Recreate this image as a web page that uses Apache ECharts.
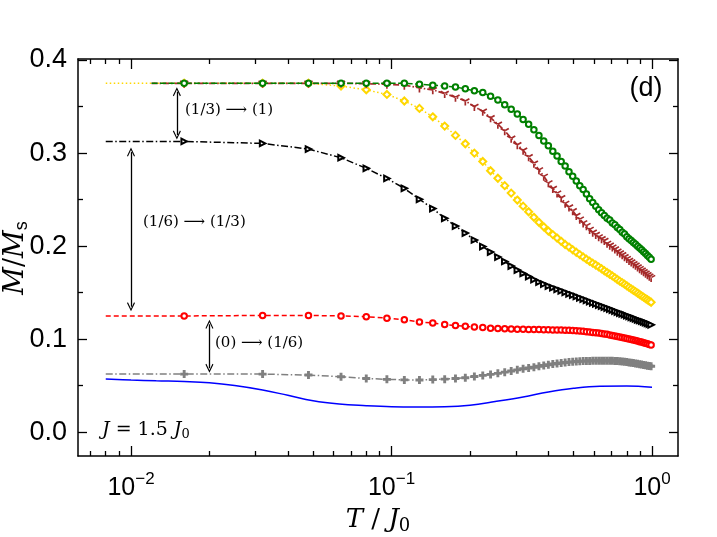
<!DOCTYPE html>
<html><head><meta charset="utf-8">
<script src="https://cdn.jsdelivr.net/npm/echarts@6/dist/echarts.min.js"></script>
<style>html,body{margin:0;padding:0;background:#fff}#c{width:717px;height:537px}</style>
</head><body><div id="c"></div>
<script>
// ---- data ----
const T = [0.016,0.032,0.048,0.064,0.080,0.096,0.112,0.128,0.144,0.160,0.176,0.192,0.208,0.224,0.240,0.256,0.272,0.288,0.304,0.320,0.336,0.352,0.368,0.384,0.400,0.416,0.432,0.448,0.464,0.480,0.496,0.512,0.528,0.544,0.560,0.576,0.592,0.608,0.624,0.640,0.656,0.672,0.688,0.704,0.720,0.736,0.752,0.768,0.784,0.800,0.816,0.832,0.848,0.864,0.880,0.896,0.912,0.928,0.944,0.960,0.976,0.992];
const greenStart = [0.012, 0.375];
const green = [0.375,0.375,0.375,0.375,0.375,0.375,0.375,0.374,0.373,0.372,0.371,0.369,0.367,0.365,0.361,0.357,0.352,0.347,0.342,0.336,0.331,0.325,0.319,0.313,0.308,0.302,0.297,0.291,0.286,0.280,0.275,0.270,0.265,0.261,0.256,0.251,0.247,0.243,0.239,0.236,0.233,0.230,0.228,0.225,0.223,0.220,0.218,0.215,0.213,0.210,0.208,0.206,0.204,0.202,0.200,0.198,0.196,0.194,0.192,0.190,0.188,0.186];
const brownStart = [0.012, 0.375];
const brown = [0.375,0.375,0.375,0.375,0.3745,0.374,0.373,0.370,0.368,0.364,0.360,0.356,0.350,0.345,0.338,0.331,0.324,0.316,0.309,0.303,0.296,0.289,0.282,0.275,0.268,0.262,0.257,0.252,0.246,0.242,0.238,0.233,0.229,0.225,0.222,0.218,0.215,0.2125,0.210,0.208,0.206,0.203,0.201,0.199,0.197,0.1945,0.1926,0.1907,0.1886,0.1866,0.1846,0.1829,0.1811,0.1794,0.1776,0.1758,0.1741,0.1725,0.1708,0.1692,0.1677,0.1662];
const yellowStart = [0.008, 0.375];
const yellow = [0.375,0.375,0.375,0.372,0.368,0.363,0.356,0.348,0.339,0.329,0.319,0.310,0.300,0.291,0.281,0.273,0.265,0.257,0.2495,0.243,0.237,0.231,0.2256,0.2208,0.2162,0.2124,0.2087,0.2052,0.2018,0.199,0.1961,0.1934,0.1909,0.1884,0.186,0.1838,0.1817,0.1797,0.1777,0.1757,0.1736,0.1717,0.1698,0.168,0.1661,0.1642,0.1624,0.1608,0.1591,0.1574,0.1557,0.1541,0.1526,0.1511,0.1496,0.148,0.1466,0.1452,0.1437,0.1424,0.141,0.1397];
const blackStart = [0.008, 0.3125];
const black = [0.3125,0.3104,0.3043,0.295,0.2836,0.2728,0.2621,0.2503,0.2404,0.2299,0.2216,0.2141,0.2066,0.1996,0.1937,0.1883,0.1835,0.1786,0.1743,0.1706,0.1673,0.1641,0.1614,0.1593,0.1571,0.1553,0.1536,0.152,0.1504,0.1488,0.1473,0.1459,0.1444,0.1431,0.1417,0.1404,0.1391,0.1379,0.1367,0.1356,0.1344,0.1333,0.1323,0.1313,0.1302,0.1291,0.1281,0.1272,0.1263,0.1253,0.1244,0.1235,0.1227,0.1218,0.1209,0.1201,0.1193,0.1185,0.1177,0.117,0.1162,0.1155];
const redStart = [0.008, 0.125];
const red = [0.125,0.1255,0.1255,0.125,0.1242,0.1226,0.1208,0.1186,0.1174,0.1158,0.1147,0.1139,0.1131,0.1125,0.1119,0.1115,0.1112,0.111,0.1108,0.1106,0.1105,0.1104,0.1103,0.1102,0.1101,0.1100,0.1099,0.1098,0.1097,0.1096,0.1094,0.1091,0.1088,0.1085,0.1081,0.1077,0.1073,0.1069,0.1066,0.1062,0.1057,0.1052,0.1046,0.1041,0.1035,0.1029,0.1024,0.1018,0.1013,0.1008,0.1002,0.0997,0.0991,0.0986,0.0981,0.0974,0.0969,0.0962,0.0956,0.095,0.0943,0.0938];
const grayStart = [0.008, 0.0625];
const gray = [0.0625,0.0625,0.0615,0.0597,0.0578,0.0569,0.0563,0.0562,0.0566,0.0571,0.0578,0.0586,0.0599,0.0611,0.0622,0.0633,0.0646,0.0658,0.0671,0.0682,0.0691,0.0699,0.0709,0.0718,0.0725,0.0733,0.0739,0.0744,0.075,0.0754,0.0757,0.076,0.0763,0.0765,0.0766,0.0767,0.0768,0.0769,0.0769,0.0769,0.0769,0.0769,0.0769,0.0768,0.0767,0.0765,0.0763,0.076,0.0757,0.0754,0.0751,0.0748,0.0744,0.074,0.0736,0.0731,0.0727,0.0723,0.0719,0.0715,0.0712,0.071];
const blueT = [0.008,0.01,0.0125,0.016,0.02,0.025,0.032,0.04,0.05,0.063,0.08,0.1,0.125,0.16,0.2,0.25,0.32,0.4,0.5,0.63,0.8,1.0];
const blue = [0.0573,0.0562,0.0553,0.0545,0.0532,0.0503,0.0455,0.0397,0.0338,0.0303,0.0286,0.0275,0.0272,0.0275,0.0291,0.033,0.0379,0.0433,0.0473,0.0495,0.0497,0.0485];

const xMajor = [0.01, 0.1, 1];
const xMinor = [0.007,0.008,0.009,0.02,0.03,0.04,0.05,0.06,0.07,0.08,0.09,0.2,0.3,0.4,0.5,0.6,0.7,0.8,0.9];
const yMajor = [0, 0.1, 0.2, 0.3, 0.4];
const yMinor = [0.05, 0.15, 0.25, 0.35];

// annotation arrows: [T, from, to]
const arrows = [[0.015, 0.3659, 0.3194], [0.01, 0.3011, 0.1349], [0.02, 0.1160, 0.0688]];

// ---- chart ----
const chart = echarts.init(document.getElementById('c'), null, {renderer: 'canvas'});
const X_MIN = 0.00626, X_MAX = 1.258, Y_MIN = -0.0255, Y_MAX = 0.4011;
const SANS = 'Liberation Sans';
const SERIF = 'DejaVu Serif';
const AX = '#000';

function mkX(pos, ticks, len, lineShow, labels) {
  return {
    type: 'log', position: pos, min: X_MIN, max: X_MAX, gridIndex: 0,
    axisLine: {show: lineShow, onZero: false, lineStyle: {color: AX, width: 1.5}},
    axisTick: {show: true, inside: true, length: len, customValues: ticks, lineStyle: {color: AX, width: 1.3}},
    axisLabel: labels ? {
      show: true, customValues: ticks, margin: 15,
      formatter: v => { const e = Math.round(Math.log10(v)); return '{b|10}{s|' + (e < 0 ? '\u2212' + (-e) : e) + '}'; },
      rich: {
        b: {fontSize: 25, fontFamily: SANS, color: '#000'},
        s: {fontSize: 17, fontFamily: SANS, color: '#000', padding: [0, 0, 18, 0]}
      }
    } : {show: false},
    splitLine: {show: false}, minorTick: {show: false}
  };
}
function mkY(pos, ticks, len, lineShow, labels) {
  return {
    type: 'value', position: pos, min: Y_MIN, max: Y_MAX, gridIndex: 0,
    axisLine: {show: lineShow, onZero: false, lineStyle: {color: AX, width: 1.5}},
    axisTick: {show: true, inside: true, length: len, customValues: ticks, lineStyle: {color: AX, width: 1.3}},
    axisLabel: labels ? {show: true, customValues: ticks, margin: 11, fontSize: 27, fontFamily: SANS, color: '#000',
      formatter: v => v.toFixed(1)} : {show: false},
    splitLine: {show: false}
  };
}

const arrowHead = 'path://M5,0 L10,9 L8.8,9.7 L5,2.6 L1.2,9.7 L0,9 Z';
const triDown = 'path://M4.1,5 H5.9 V10 H4.1 Z M5.45,4.22 L1.12,1.72 L0.22,3.28 L4.55,5.78 Z M5.45,5.78 L9.78,3.28 L8.88,1.72 L4.55,4.22 Z M4.99,0 L5.01,0 Z';
const plusP = 'path://M3.2,0 H6.8 V3.2 H10 V6.8 H6.8 V10 H3.2 V6.8 H0 V3.2 H3.2 Z';

function mk(name, start, vals, color, dash, symbol, size, opts) {
  opts = opts || {};
  const data = [{value: start, symbol: 'none'}].concat(T.map((t, i) => [t, vals[i]]));
  return {
    name, type: 'line', xAxisIndex: 0, yAxisIndex: 0, data,
    symbol, symbolSize: size, symbolRotate: opts.rotate || 0, showSymbol: true, showAllSymbol: true,
    lineStyle: {color, width: opts.lw || 1.5, type: dash},
    itemStyle: {color: color, borderColor: color, borderWidth: opts.bw == null ? 1.4 : opts.bw},
    z: opts.z || 2, animation: false, silent: true
  };
}

const series = [
  {
    name: 'blue', type: 'line', xAxisIndex: 0, yAxisIndex: 0,
    data: blueT.map((t, i) => [t, blue[i]]), smooth: 0.4, symbol: 'none',
    lineStyle: {color: '#0000ff', width: 1.5}, z: 2, animation: false, silent: true,
    markLine: {
      silent: true, animation: false, symbol: [arrowHead, arrowHead], symbolSize: [8, 9],
      lineStyle: {color: '#000', width: 1.3, type: 'solid'}, label: {show: false},
      emphasis: {disabled: true},
      data: arrows.map(a => [{coord: [a[0], a[1]]}, {coord: [a[0], a[2]]}])
    }
  },
  mk('gray', grayStart, gray, '#808080', [7, 2.5, 1.5, 2.5], plusP, 8, {bw: 0, z: 3}),
  mk('red', redStart, red, '#ff0000', [5, 3], 'emptyCircle', 5.5, {z: 4}),
  mk('black', blackStart, black, '#000000', [7, 2.5, 1.5, 2.5], 'emptyTriangle', 5.5, {rotate: -90, z: 5, bw: 1.2}),
  mk('yellow', yellowStart, yellow, '#ffd700', [1.5, 2.5], 'emptyDiamond', 7, {z: 6}),
  mk('brown', brownStart, brown, '#a52a2a', [6, 2, 1.5, 2], triDown, 9, {bw: 0, z: 7, lw: 1.7}),
  mk('green', greenStart, green, '#008000', [6, 2.5], 'emptyCircle', 5.5, {z: 8})
];

chart.setOption({
  backgroundColor: '#fff',
  animation: false,
  grid: {left: 78, right: 39, top: 59, bottom: 81, containLabel: false, outerBoundsMode: 'none'},
  xAxis: [
    mkX('bottom', xMajor, 10, true, true),
    mkX('bottom', xMinor, 5, false, false),
    mkX('top', xMajor, 10, true, false),
    mkX('top', xMinor, 5, false, false)
  ],
  yAxis: [
    mkY('left', yMajor, 9, true, true),
    mkY('left', yMinor, 5, false, false),
    mkY('right', yMajor, 9, true, false),
    mkY('right', yMinor, 5, false, false)
  ],
  series,
  graphic: [
    {type: 'text', x: 646, y: 89, silent: true, style: {text: '(d)', font: '27px "Liberation Sans"', fill: '#000', align: 'center', verticalAlign: 'middle'}},
    {type: 'text', x: 185, y: 110, silent: true, style: {text: '(1/3) \u27F6 (1)', font: '15px "DejaVu Serif"', fill: '#000', align: 'left', verticalAlign: 'middle'}},
    {type: 'text', x: 143, y: 222, silent: true, style: {text: '(1/6) \u27F6 (1/3)', font: '15px "DejaVu Serif"', fill: '#000', align: 'left', verticalAlign: 'middle'}},
    {type: 'text', x: 215, y: 343, silent: true, style: {text: '(0) \u27F6 (1/6)', font: '15px "DejaVu Serif"', fill: '#000', align: 'left', verticalAlign: 'middle'}},
    {type: 'text', x: 102, y: 430, silent: true, style: {
      text: '{i|J} = 1.5 {i|J}{sub|0}', font: '19px "DejaVu Serif"', fill: '#000', align: 'left', verticalAlign: 'middle',
      rich: {i: {fontStyle: 'italic', fontSize: 19, fontFamily: SERIF}, sub: {fontSize: 13, fontFamily: SERIF, padding: [9, 0, 0, 0]}}
    }},
    {type: 'text', x: 378, y: 520, silent: true, style: {
      text: '{i|T} / {i|J}{sub|0}', font: '26px "DejaVu Serif"', fill: '#000', align: 'center', verticalAlign: 'middle',
      rich: {i: {fontStyle: 'italic', fontSize: 26, fontFamily: SERIF}, sub: {fontSize: 18, fontFamily: SERIF, padding: [12, 0, 0, 0]}}
    }},
    {type: 'text', x: 16, y: 258, rotation: Math.PI / 2, silent: true, style: {
      text: '{i|M}/{i|M}{sub|s}', font: '27px "DejaVu Serif"', fill: '#000', align: 'center', verticalAlign: 'middle',
      rich: {i: {fontStyle: 'italic', fontSize: 27, fontFamily: SERIF}, sub: {fontSize: 18, fontFamily: SANS, padding: [12, 0, 0, 0]}}
    }}
  ]
});
</script></body></html>
